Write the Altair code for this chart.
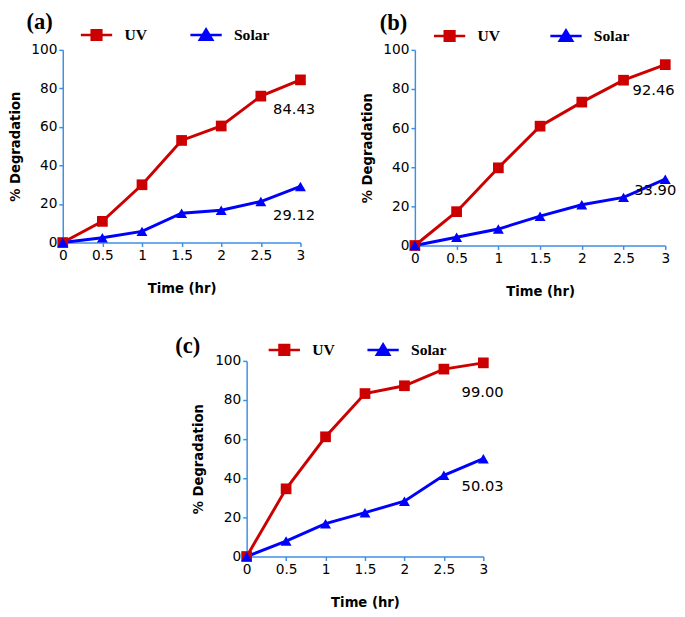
import altair as alt
import pandas as pd

# ---------------- data ----------------
time = [0, 0.5, 1, 1.5, 2, 2.5, 3]
series = ["UV", "Solar"]
y_ticks = [0, 20, 40, 60, 80, 100]

uv_a = [0, 11.0, 30.0, 53.0, 60.5, 76.0, 84.43]
solar_a = [0, 2.5, 5.8, 15.2, 16.8, 21.3, 29.12]

uv_b = [0, 17.3, 39.7, 61.0, 73.3, 84.5, 92.46]
solar_b = [0, 4.2, 8.4, 15.0, 20.8, 24.6, 33.90]

uv_c = [0, 34.6, 61.2, 83.3, 87.3, 95.8, 99.00]
solar_c = [0, 7.9, 16.8, 22.4, 28.3, 41.5, 50.03]

panel_tags = ["(a)", "(b)", "(c)"]
end_labels_a = ["84.43", "29.12"]
end_labels_b = ["92.46", "33.90"]
end_labels_c = ["99.00", "50.03"]

# annotation anchor points in data units (time, % degradation)
ann_x_a = [2.92, 2.92]
ann_y_a = [69.5, 14.2]
ann_x_b = [2.86, 2.88]
ann_y_b = [79.4, 28.3]
ann_x_c = [2.99, 2.99]
ann_y_c = [83.9, 35.9]

# ---------------- styles ----------------
RED = "#cc0000"
BLUE = "#0000ff"
AXIS_BLUE = "#3d8fe6"
SANS = "DejaVu Sans"
SERIF = "Liberation Serif"

PATH_UV = "M-1,0H1M-0.31,-0.31H0.31V0.31H-0.31Z"
PATH_SOLAR = "M-1,0H1M0,-0.36L0.4,0.31H-0.4Z"

color_scale = alt.Scale(domain=series, range=[RED, BLUE])
shape_scale = alt.Scale(domain=series, range=[PATH_UV, PATH_SOLAR])


def panel(uv, solar, tag, labels, ax, ay, w, h, lx, ly, tpad, cpad, tanchor,
          tbase, tlh):
    rows = []
    for t, u, s in zip(time, uv, solar):
        rows.append({"time": t, "value": u, "series": "UV"})
        rows.append({"time": t, "value": s, "series": "Solar"})
    df = pd.DataFrame(rows)

    x = alt.X(
        "time:Q",
        scale=alt.Scale(domain=[0, 3], nice=False),
        axis=alt.Axis(values=time, tickCount=20, format="~g", title="Time (hr)",
                      labelFlush=False, labelOverlap=False),
    )
    y = alt.Y(
        "value:Q",
        scale=alt.Scale(domain=[0, 100], nice=False),
        axis=alt.Axis(values=y_ticks, tickCount=20, title="% Degradation",
                      labelOverlap=False, labelFlush=False),
    )

    base = alt.Chart(df)
    leg = alt.Legend(
        title=tag,
        orient="none",
        legendX=lx,
        legendY=ly,
        direction="horizontal",
        titleOrient="left",
        titleFont=SERIF,
        titleFontSize=23,
        titleFontWeight="bold",
        titleColor="black",
        titleBaseline=tbase,
        titleLineHeight=tlh,
        titleAnchor=tanchor,
        titlePadding=tpad,
        labelFont=SERIF,
        labelFontSize=16,
        labelFontWeight="bold",
        labelColor="black",
        labelOffset=11,
        columnPadding=cpad,
        symbolSize=1024,
        symbolStrokeWidth=2.5,
        symbolOpacity=1,
        padding=0,
    )
    legend_layer = base.mark_point(filled=True, opacity=0).encode(
        x=x,
        y=y,
        color=alt.Color("series:N", scale=color_scale, legend=leg),
        stroke=alt.Stroke("series:N", scale=color_scale, legend=leg),
        shape=alt.Shape("series:N", scale=shape_scale, legend=leg),
    )
    line = base.mark_line(strokeWidth=3).encode(
        x=x, y=y, color=alt.Color("series:N", scale=color_scale, legend=None),
        detail="series:N",
    )
    sq = base.transform_filter(alt.datum.series == "UV").mark_point(
        shape="square", filled=True, size=120, opacity=1
    ).encode(x=x, y=y, color=alt.Color("series:N", scale=color_scale, legend=None))
    tri = base.transform_filter(alt.datum.series == "Solar").mark_point(
        shape="triangle-up", filled=True, size=125, opacity=1
    ).encode(x=x, y=y, color=alt.Color("series:N", scale=color_scale, legend=None))

    ann_df = pd.DataFrame({"time": ax, "value": ay, "label": labels})
    ann = alt.Chart(ann_df).mark_text(
        font=SANS, fontSize=15, color="black", align="center", baseline="middle"
    ).encode(x="time:Q", y="value:Q", text="label:N")

    return alt.layer(legend_layer, line, sq, tri, ann).properties(width=w, height=h)


pa = panel(uv_a, solar_a, panel_tags[0], end_labels_a, ann_x_a, ann_y_a,
           243, 197, -37, -33, 27, 38, "start", "line-top", 11)
pb = panel(uv_b, solar_b, panel_tags[1], end_labels_b, ann_x_b, ann_y_b,
           256, 200, -36, -32, 25, 45, "start", "line-top", 11)
pc = panel(uv_c, solar_c, panel_tags[2], end_labels_c, ann_x_c, ann_y_c,
           242, 200, -73, -29, 68, 27, "middle", "middle", 23)

# empty spacer that shifts panel (c) towards the middle of the page
spacer = alt.Chart(pd.DataFrame({"k": [0]})).mark_point(opacity=0).encode(
    x=alt.value(0), y=alt.value(0)
).properties(width=115, height=10)

resolve_kw = dict(color="independent", stroke="independent", shape="independent")

top = alt.hconcat(pa, pb, spacing=46).resolve_scale(**resolve_kw).resolve_legend(**resolve_kw)
bottom = alt.hconcat(spacer, pc, spacing=0).resolve_scale(**resolve_kw).resolve_legend(**resolve_kw)

chart = (
    alt.vconcat(top, bottom, spacing=35)
    .resolve_scale(**resolve_kw)
    .resolve_legend(**resolve_kw)
    .properties(padding={"left": 0, "top": 3, "right": 0, "bottom": 0})
    .configure_view(stroke=None)
    .configure_axis(
        grid=False,
        domainColor=AXIS_BLUE,
        domainWidth=1.5,
        tickColor=AXIS_BLUE,
        tickWidth=1.5,
        tickSize=4,
        labelFont=SANS,
        labelFontSize=14,
        labelColor="black",
        labelPadding=2,
        titleFont=SANS,
        titleFontSize=13.5,
        titleFontWeight="bold",
        titleColor="black",
    )
    .configure_axisX(titlePadding=20)
    .configure_axisY(titlePadding=9)
)

chart.save("out.html", embed_options={"renderer": "svg", "actions": False})
